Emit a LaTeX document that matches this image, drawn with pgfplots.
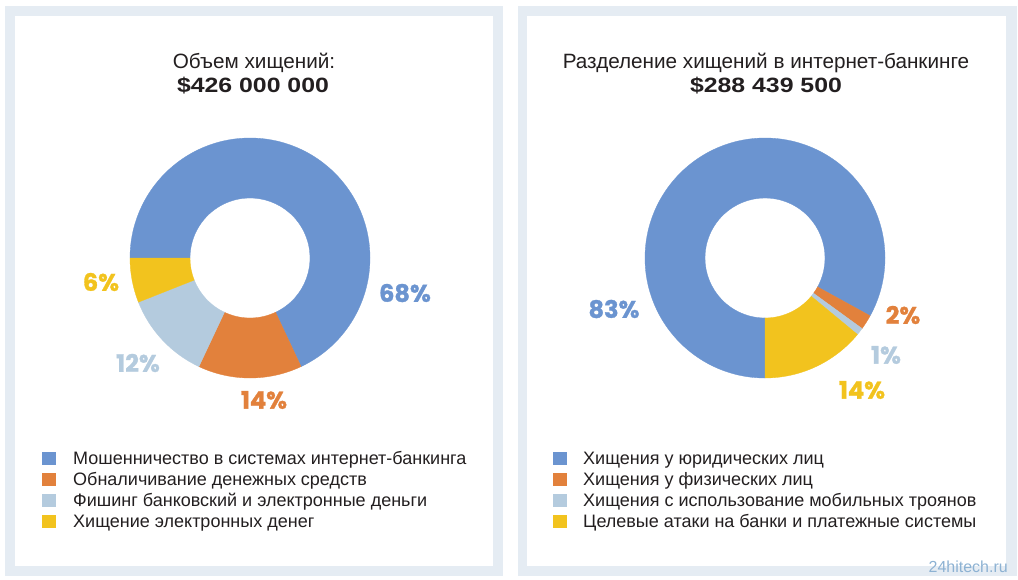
\documentclass[border=0pt]{standalone}
\usepackage{fontspec}
\setmainfont{Liberation Sans}
\newfontfamily\pctfont{Poppins}[BoldFeatures={FakeBold=1.2}]
\newfontfamily\widefont{Liberation Sans}[FakeStretch=1.2]
\usepackage{pgfplots}
\pgfplotsset{compat=1.18}
\definecolor{cblue}{HTML}{6B94D0}
\definecolor{corange}{HTML}{E2813C}
\definecolor{cgrey}{HTML}{B4CBDE}
\definecolor{cyellow}{HTML}{F2C31E}
\definecolor{framecol}{HTML}{E5ECF3}
\definecolor{txt}{HTML}{231F20}
\definecolor{wm}{HTML}{8DB2D3}
% #1 start angle of the pie, #2 cumulative percent before slice, #3 slice percent, #4 colour
\newcommand\slice[4]{%
  \fill[#4, draw=#4, line width=0.3pt]
    (axis cs:{60*cos(#1-3.6*(#2))},{60*sin(#1-3.6*(#2))})
    -- (axis cs:{120*cos(#1-3.6*(#2))},{120*sin(#1-3.6*(#2))})
    arc[start angle={#1-3.6*(#2)}, end angle={#1-3.6*(#2+#3)}, radius=120pt]
    -- (axis cs:{60*cos(#1-3.6*(#2+#3))},{60*sin(#1-3.6*(#2+#3))})
    arc[start angle={#1-3.6*(#2+#3)}, end angle={#1-3.6*(#2)}, radius=60pt]
    -- cycle;}
\newcommand\pct[1]{\fontsize{24}{26}\selectfont\pctfont\bfseries #1}
\newcommand\legfont{\fontsize{18}{20}\selectfont\color{txt}}
\begin{document}
\begin{tikzpicture}[x=1pt,y=-1pt]
\useasboundingbox (0,0) rectangle (1018,579);
\fill[white] (0,0) rectangle (1018,579);
% frames
\fill[framecol] (5,6) rectangle (503,576);
\fill[white] (15,16) rectangle (493,566);
\fill[framecol] (518,6) rectangle (1017,576);
\fill[white] (527,16) rectangle (1006,566);
% titles
\node[anchor=base, text=txt, inner sep=0] at (254,68) {\fontsize{20.7}{24}\selectfont Объем хищений:};
\node[anchor=base, text=txt, inner sep=0] at (253,92) {\fontsize{20.7}{24}\selectfont\widefont\bfseries \$426 000 000};
\node[anchor=base, text=txt, inner sep=0] at (766,68) {\fontsize{20.7}{24}\selectfont Разделение хищений в интернет-банкинге};
\node[anchor=base, text=txt, inner sep=0] at (766,92) {\fontsize{20.7}{24}\selectfont\widefont\bfseries \$288 439 500};
% left donut
\begin{axis}[at={(250pt,-258pt)}, anchor=center, x=1pt, y=1pt,
  xmin=-130, xmax=130, ymin=-130, ymax=130, hide axis, clip=false]
\slice{180}{0}{68}{cblue}
\slice{180}{68}{14}{corange}
\slice{180}{82}{12}{cgrey}
\slice{180}{94}{6}{cyellow}
\node[text=cblue] at (axis cs:155,-35) {\pct{68\%}};
\node[text=corange] at (axis cs:14,-142) {\pct{14\%}};
\node[text=cgrey] at (axis cs:-112,-105) {\pct{12\%}};
\node[text=cyellow] at (axis cs:-149,-24) {\pct{6\%}};
\end{axis}
% right donut
\begin{axis}[at={(765pt,-258pt)}, anchor=center, x=1pt, y=1pt,
  xmin=-130, xmax=130, ymin=-130, ymax=130, hide axis, clip=false]
\slice{-90}{0}{83}{cblue}
\slice{-90}{83}{2}{corange}
\slice{-90}{85}{1}{cgrey}
\slice{-90}{86}{14}{cyellow}
\node[text=cblue] at (axis cs:-151,-51) {\pct{83\%}};
\node[text=corange] at (axis cs:138,-57) {\pct{2\%}};
\node[text=cgrey] at (axis cs:121,-97) {\pct{1\%}};
\node[text=cyellow] at (axis cs:97,-132) {\pct{14\%}};
\end{axis}
% legends
\fill[cblue]   (42,452) rectangle (56,465);
\fill[corange] (42,473) rectangle (56,486);
\fill[cgrey]   (42,494) rectangle (56,507);
\fill[cyellow] (42,515) rectangle (56,528);
\node[anchor=base west, inner sep=0] at (73,464) {\legfont Мошенничество в системах интернет-банкинга};
\node[anchor=base west, inner sep=0] at (73,485) {\legfont Обналичивание денежных средств};
\node[anchor=base west, inner sep=0] at (73,506) {\legfont Фишинг банковский и электронные деньги};
\node[anchor=base west, inner sep=0] at (73,527) {\legfont Хищение электронных денег};
\fill[cblue]   (553,452) rectangle (567,465);
\fill[corange] (553,473) rectangle (567,486);
\fill[cgrey]   (553,494) rectangle (567,507);
\fill[cyellow] (553,515) rectangle (567,528);
\node[anchor=base west, inner sep=0] at (583,464) {\legfont Хищения у юридических лиц};
\node[anchor=base west, inner sep=0] at (583,485) {\legfont Хищения у физических лиц};
\node[anchor=base west, inner sep=0] at (583,506) {\legfont Хищения с использование мобильных троянов};
\node[anchor=base west, inner sep=0] at (583,527) {\legfont Целевые атаки на банки и платежные системы};
% watermark
\node[anchor=base east, inner sep=0, text=wm] at (1008,572) {\fontsize{16}{18}\selectfont 24hitech.ru};
\end{tikzpicture}
\end{document}
